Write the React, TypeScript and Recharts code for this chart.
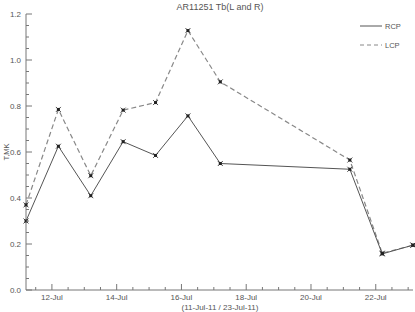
import { Legend, Line, LineChart, XAxis, YAxis } from "recharts";

// day of July 2011 (fractional) for each observation
const days = [11.2, 12.2, 13.2, 14.2, 15.2, 16.2, 17.2, 21.2, 22.2, 23.15];
const rcp = [0.3, 0.625, 0.41, 0.645, 0.585, 0.757, 0.55, 0.525, 0.157, 0.195];
const lcp = [0.37, 0.785, 0.497, 0.782, 0.815, 1.128, 0.905, 0.565, 0.16, 0.195];

const xTicks = [
  11.5, 12, 12.5, 13, 13.5, 14, 14.5, 15, 15.5, 16, 16.5, 17, 17.5, 18, 18.5, 19, 19.5, 20,
  20.5, 21, 21.5, 22, 22.5, 23,
];
const xLabelDays = [12, 14, 16, 18, 20, 22];
const yTicks = [
  0, 0.05, 0.1, 0.15, 0.2, 0.25, 0.3, 0.35, 0.4, 0.45, 0.5, 0.55, 0.6, 0.65, 0.7, 0.75, 0.8,
  0.85, 0.9, 0.95, 1.0, 1.05, 1.1, 1.15, 1.2,
];
const yLabels = [0, 0.2, 0.4, 0.6, 0.8, 1.0, 1.2];

const data = days.map((d, i) => ({ day: d, rcp: rcp[i], lcp: lcp[i] }));

const FONT = "'Liberation Sans', Arial, sans-serif";
const INK = "#555";
const AXIS = "#777";

const isMajorX = (v: number) => xLabelDays.includes(v);
const isMajorY = (v: number) => yLabels.some((l) => Math.abs(l - v) < 1e-6);

function BottomTick(props: any) {
  const { x, y, payload } = props;
  const major = isMajorX(payload.value);
  return (
    <g>
      <line x1={x} y1={y} x2={x} y2={y - (major ? 6 : 3)} stroke={AXIS} />
      {major && (
        <text x={x} y={y + 10} textAnchor="middle" fontSize={8} fill={INK} fontFamily={FONT}>
          {`${payload.value}-Jul`}
        </text>
      )}
    </g>
  );
}

function TopTick(props: any) {
  const { x, y, payload } = props;
  const major = isMajorX(payload.value);
  return <line x1={x} y1={y} x2={x} y2={y + (major ? 6 : 3)} stroke={AXIS} />;
}

function LeftTick(props: any) {
  const { x, y, payload } = props;
  const major = isMajorY(payload.value);
  return (
    <g>
      <line x1={x} y1={y} x2={x + (major ? 6 : 3)} y2={y} stroke={AXIS} />
      {major && (
        <text x={x - 5} y={y + 3} textAnchor="end" fontSize={8} fill={INK} fontFamily={FONT}>
          {payload.value.toFixed(1)}
        </text>
      )}
    </g>
  );
}

function RightTick(props: any) {
  const { x, y, payload } = props;
  const major = isMajorY(payload.value);
  return <line x1={x} y1={y} x2={x - (major ? 6 : 3)} y2={y} stroke={AXIS} />;
}

function Star(props: any) {
  const { cx, cy, index } = props;
  if (cx == null || cy == null) return <g key={index} />;
  return (
    <g key={index}>
      <rect x={cx - 1.5} y={cy - 1.5} width={3} height={3} fill="#222" />
      <line x1={cx - 2.5} y1={cy - 2.5} x2={cx + 2.5} y2={cy + 2.5} stroke="#222" strokeWidth={0.8} />
      <line x1={cx - 2.5} y1={cy + 2.5} x2={cx + 2.5} y2={cy - 2.5} stroke="#222" strokeWidth={0.8} />
    </g>
  );
}

function LegendBox() {
  return (
    <svg width={60} height={34} style={{ display: "block" }}>
      <line x1={4} y1={6} x2={26} y2={6} stroke="#555" strokeWidth={1} />
      <text x={29} y={9} fontSize={7.5} fill={INK} fontFamily={FONT}>
        RCP
      </text>
      <line x1={4} y1={25} x2={26} y2={25} stroke="#888" strokeWidth={1} strokeDasharray="4 3" />
      <text x={29} y={28} fontSize={7.5} fill={INK} fontFamily={FONT}>
        LCP
      </text>
    </svg>
  );
}

export default function App() {
  return (
    <div style={{ position: "absolute", left: 0, top: 0, width: 415, height: 312, background: "#fff" }}>
      <LineChart width={415} height={312} data={data} margin={{ top: 14, right: 2, bottom: 0, left: 0 }}>
        <XAxis
          dataKey="day"
          type="number"
          domain={[11.2, 23.15]}
          ticks={xTicks}
          interval={0}
          height={22}
          tickSize={0}
          tickMargin={0}
          tickLine={false}
          axisLine={{ stroke: AXIS }}
          tick={<BottomTick />}
        />
        <XAxis
          xAxisId="top"
          dataKey="day"
          type="number"
          orientation="top"
          domain={[11.2, 23.15]}
          ticks={xTicks}
          interval={0}
          height={0}
          tickSize={0}
          tickMargin={0}
          tickLine={false}
          axisLine={{ stroke: AXIS }}
          tick={<TopTick />}
        />
        <YAxis
          type="number"
          domain={[0, 1.2]}
          ticks={yTicks}
          interval={0}
          width={26}
          tickSize={0}
          tickMargin={0}
          tickLine={false}
          axisLine={{ stroke: AXIS }}
          tick={<LeftTick />}
        />
        <YAxis
          yAxisId="right"
          orientation="right"
          type="number"
          domain={[0, 1.2]}
          ticks={yTicks}
          interval={0}
          width={0}
          tickSize={0}
          tickMargin={0}
          tickLine={false}
          axisLine={{ stroke: AXIS }}
          tick={<RightTick />}
        />
        <Legend
          layout="horizontal"
          align="center"
          verticalAlign="middle"
          content={<LegendBox />}
          wrapperStyle={{ position: "absolute", left: 356, top: 20, width: 60, height: 34 }}
        />
        <Line
          dataKey="lcp"
          name="LCP"
          stroke="#888"
          strokeWidth={1.2}
          strokeDasharray="5 3"
          dot={<Star />}
          isAnimationActive={false}
        />
        <Line
          dataKey="rcp"
          name="RCP"
          stroke="#555"
          strokeWidth={1}
          dot={<Star />}
          isAnimationActive={false}
        />
      </LineChart>
      <svg
        width={415}
        height={312}
        style={{ position: "absolute", left: 0, top: 0, pointerEvents: "none" }}
      >
        <text x={220} y={10} textAnchor="middle" fontSize={9} fill={INK} fontFamily={FONT}>
          AR11251 Tb(L and R)
        </text>
        <text
          x={9}
          y={152}
          textAnchor="middle"
          fontSize={7.5}
          fill={INK}
          fontFamily={FONT}
          transform="rotate(-90 9 152)"
        >
          T,MK
        </text>
        <text x={220} y={310} textAnchor="middle" fontSize={8} fill={INK} fontFamily={FONT}>
          (11-Jul-11 / 23-Jul-11)
        </text>
      </svg>
    </div>
  );
}
